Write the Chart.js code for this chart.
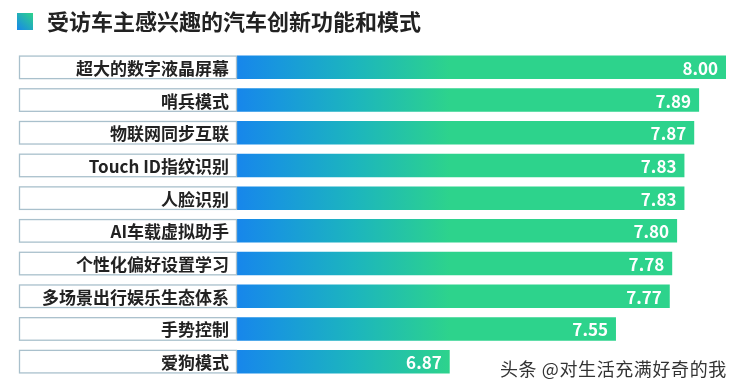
<!DOCTYPE html>
<html>
<head>
<meta charset="utf-8">
<script src="https://cdn.jsdelivr.net/npm/chart.js@4"></script>
<style>
    html, body { margin: 0; padding: 0; background: #fff; }
    #wrap { position: relative; width: 740px; height: 389px; }
</style>
</head>
<body>
<div id="wrap"><canvas id="barras" width="740" height="389"></canvas></div>
<script>
// Dados do gráfico
let categorias = ['超大的数字液晶屏幕', '哨兵模式', '物联网同步互联', 'Touch ID指纹识别', '人脸识别',
    'AI车载虚拟助手', '个性化偏好设置学习', '多场景出行娱乐生态体系', '手势控制', '爱狗模式'];
let valores = [8.00, 7.89, 7.87, 7.83, 7.83, 7.80, 7.78, 7.77, 7.55, 6.87];
let titulo = '受访车主感兴趣的汽车创新功能和模式';
let marcaDagua = '头条 @对生活充满好奇的我';

const FONTE = '"Noto Sans CJK SC", "Noto Sans", sans-serif';
const X_MIN = 6;

// Gradiente de cada barra, do início ao fim dela
function gradienteBarra(chart, valor) {
    let x = chart.scales.x;
    let x0 = x.getPixelForValue(X_MIN);
    let x1 = x.getPixelForValue(valor);
    if (!isFinite(x0) || !isFinite(x1)) return '#1fb0c4';
    let g = chart.ctx.createLinearGradient(x0, 0, x1, 0);
    g.addColorStop(0, '#1786eb');
    g.addColorStop(0.2, '#1898dc');
    g.addColorStop(0.55, '#1cb5be');
    g.addColorStop(1, '#2dd38c');
    return g;
}

// Título, caixas de rótulo, valores e marca d'água
const decoracao = {
    id: 'decoracao',
    beforeDatasetsDraw(chart) {
        chart.getDatasetMeta(0).data.forEach((bar, i) => {
            bar.options.backgroundColor = gradienteBarra(chart, valores[i]);
        });
    },
    afterDatasetsDraw(chart) {
        let c = chart.ctx;
        let meta = chart.getDatasetMeta(0);
        c.save();

        // quadradinho do título
        let g = c.createLinearGradient(17, 30, 33, 13);
        g.addColorStop(0, '#1787ea');
        g.addColorStop(1, '#2ed38b');
        c.fillStyle = g;
        c.fillRect(17, 13, 16, 17);

        c.fillStyle = '#222';
        c.font = 'bold 22px ' + FONTE;
        c.textAlign = 'left';
        c.textBaseline = 'middle';
        c.fillText(titulo, 47, 22);

        meta.data.forEach((bar, i) => {
            let h = bar.height;
            let top = bar.y - h / 2;
            // caixa do rótulo
            c.fillStyle = '#fff';
            c.fillRect(19.5, top + 0.5, 217, h - 1);
            c.strokeStyle = '#a9c0cc';
            c.lineWidth = 1.3;
            c.strokeRect(19.5, top + 0.5, 217, h - 1);

            c.fillStyle = '#222';
            c.font = 'bold 17px ' + FONTE;
            c.textAlign = 'right';
            c.fillText(categorias[i], 229, bar.y + 1);

            // valor dentro da barra
            c.fillStyle = '#fff';
            c.font = 'bold 17px ' + FONTE;
            c.fillText(valores[i].toFixed(2), bar.x - 8, bar.y + 1);
        });

        c.fillStyle = '#333';
        c.font = '18px ' + FONTE;
        c.textAlign = 'left';
        c.letterSpacing = '0.6px';
        c.fillText(marcaDagua, 500, 369);
        c.restore();
    }
};

new Chart(document.getElementById('barras'), {
    type: 'bar',
    data: {
        labels: categorias,
        datasets: [{
            data: valores,
            backgroundColor: '#1fb0c4',
            borderWidth: 0,
            borderSkipped: false,
            barPercentage: 0.72,
            categoryPercentage: 1
        }]
    },
    options: {
        indexAxis: 'y',
        responsive: false,
        animation: false,
        devicePixelRatio: 1,
        layout: { padding: { left: 237, right: 14, top: 51, bottom: 11 } },
        scales: {
            x: { min: X_MIN, max: 8, display: false, grid: { display: false } },
            y: { display: false, grid: { display: false } }
        },
        plugins: {
            legend: { display: false },
            tooltip: { enabled: false }
        }
    },
    plugins: [decoracao]
});
</script>
</body>
</html>
